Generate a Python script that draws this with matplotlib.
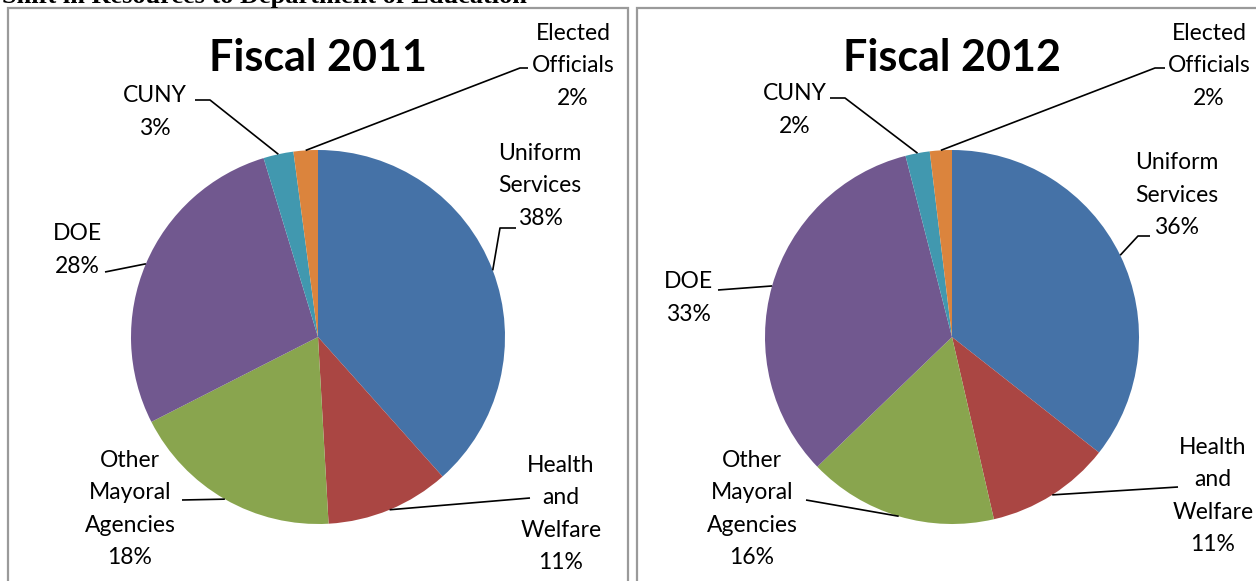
import math
import matplotlib.pyplot as plt
from matplotlib.patches import Rectangle

plt.rcParams['font.family'] = ['Lato', 'DejaVu Sans']

# Data
categories = ['Uniform\nServices', 'Health\nand\nWelfare', 'Other\nMayoral\nAgencies',
              'DOE', 'CUNY', 'Elected\nOfficials']
share_2011 = [38.4, 10.7, 18.4, 27.8, 2.6, 2.1]
share_2012 = [35.6, 10.8, 16.4, 33.2, 2.1, 1.9]
colors = ['#4572A7', '#AA4643', '#89A54E', '#71588F', '#4198AF', '#DB843D']

W, H = 1256, 581


def Y(y):
    # image row -> data y (y up)
    return H - y


fig = plt.figure(figsize=(W / 100, H / 100), dpi=100)
ax = fig.add_axes([0, 0, 1, 1])

# label layout per panel: (text x, text y, elbow x, elbow y, tail x)
layout_2011 = [
    (540, 186, 500, 228, 516),
    (561, 514, 530, 498, 530),
    (130, 509, 182, 500, 182),
    (77, 250, 105, 272, 105),
    (155, 112, 210, 100, 195),
    (573, 66, 520, 68, 528),
]
layout_2012 = [
    (1177, 195, 1138, 236, 1150),
    (1213, 496, 1178, 487, 1178),
    (752, 509, 806, 500, 806),
    (688, 298, 718, 290, 718),
    (795, 110, 845, 98, 830),
    (1209, 66, 1155, 68, 1165),
]

panels = [
    ('Fiscal 2011', share_2011, 318, layout_2011),
    ('Fiscal 2012', share_2012, 952, layout_2012),
]

for title, values, cx, layout in panels:
    cy = 337
    r = 187
    wedges, _ = ax.pie(values, colors=colors, startangle=90, counterclock=False,
                       center=(cx, Y(cy)), radius=r, frame=False,
                       wedgeprops=dict(linewidth=0))
    total = sum(values)
    for w, name, v, (tx, ty, ex, ey, tail) in zip(wedges, categories, values, layout):
        mid = math.radians((w.theta1 + w.theta2) / 2)
        sx = cx + r * math.cos(mid)
        sy = Y(cy) + r * math.sin(mid)
        ax.plot([sx, ex, tail], [sy, Y(ey), Y(ey)], color='black', lw=1.2,
                solid_capstyle='butt')
        pct = round(v / total * 100)
        ax.text(tx, Y(ty), f'{name}\n{pct}%', ha='center', va='center',
                fontsize=16.5, linespacing=1.66, color='black')
    ax.text(cx, Y(58), title, ha='center', va='center', fontsize=31,
            fontweight='bold', color='black')

# panel borders
ax.add_patch(Rectangle((8, -20), 620, Y(8) + 20, fill=False, ec='#9a9a9a', lw=1.6))
ax.add_patch(Rectangle((637, -20), 640, Y(8) + 20, fill=False, ec='#9a9a9a', lw=1.6))

# document heading, cut off at the top as in the source page
ax.text(2, Y(3), 'Shift in Resources to Department of Education', ha='left',
        va='baseline', fontsize=19, fontweight='bold',
        family=['Liberation Serif', 'DejaVu Serif'])

ax.set_xlim(0, W)
ax.set_ylim(0, H)
ax.set_aspect('equal')
ax.axis('off')

fig.savefig('out.png', dpi=100)
